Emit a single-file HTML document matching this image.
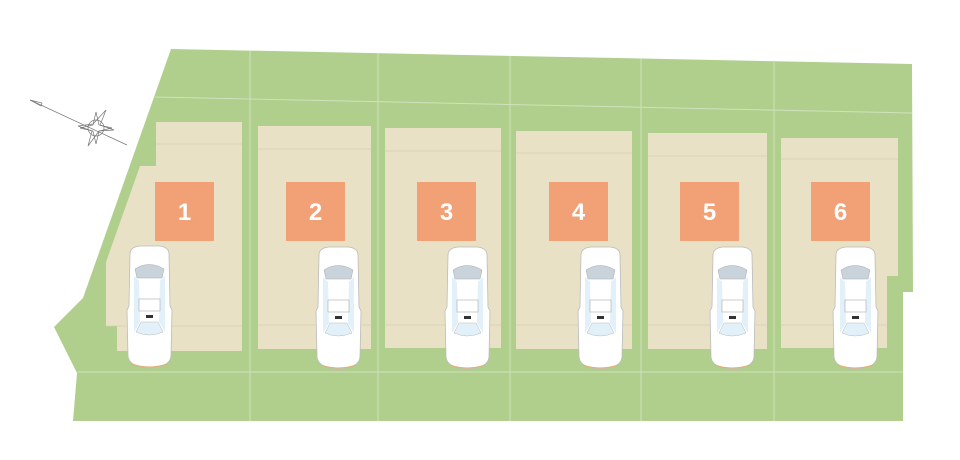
<!DOCTYPE html>
<html><head><meta charset="utf-8"><style>body{margin:0;background:#fff}svg{display:block}</style></head>
<body>
<svg width="960" height="460" viewBox="0 0 960 460" xmlns="http://www.w3.org/2000/svg">
<defs>
<g id="car">
  <path d="M4,8 Q4,1 14,0 L33,0 Q43,1 43,8 L44,60 L46,64 L45,110 Q44,121 23.5,122 Q3,121 2,110 L1,64 L3,60 Z" fill="#fff" stroke="#bbb" stroke-width="0.8"/>
  <path d="M9,23 Q23,14 38,23 L36,32 L11,32 Z" fill="#c9d3db" stroke="#aaa" stroke-width="0.5"/>
  <path d="M8,30 L13,35 L14,76 L8,86 Z" fill="#e2f0fa"/>
  <path d="M39,30 L34,35 L33,76 L39,86 Z" fill="#e2f0fa"/>
  <path d="M10,86 L15,76 L32,76 L37,86 Q23,92 10,86 Z" fill="#e2f0fa" stroke="#bbb" stroke-width="0.5"/>
  <rect x="13" y="53" width="21" height="12" fill="#fff" stroke="#aaa" stroke-width="0.6"/>
  <rect x="20" y="69" width="7" height="3" fill="#333"/>
  <path d="M6,118 Q23,124 41,118" stroke="#e0b070" stroke-width="1" fill="none"/>
</g>
</defs>
<polygon points="171,49 912,64 913,292 903,292 903,421 73,421 77,373 54,327 83,298" fill="#b0cf8c"/>
<g stroke="#cfe2bd" stroke-width="1" fill="none">
  <line x1="155" y1="97" x2="912" y2="113"/>
  <line x1="77" y1="372" x2="903" y2="372"/>
  <line x1="250" y1="51" x2="250" y2="421"/>
  <line x1="378" y1="53" x2="378" y2="421"/>
  <line x1="510" y1="56" x2="510" y2="421"/>
  <line x1="641" y1="59" x2="641" y2="421"/>
  <line x1="774" y1="62" x2="774" y2="421"/>
</g>
<g fill="#e9e1c6">
  <polygon points="156,122 242,122 242,351 117,351 117,326 106,326 106,262 140,166 156,166"/>
  <rect x="258" y="126" width="113" height="223"/>
  <rect x="385" y="128" width="116" height="220"/>
  <rect x="516" y="131" width="116" height="218"/>
  <rect x="648" y="133" width="119" height="216"/>
  <polygon points="781,138 898,138 898,276 887,276 887,348 781,348"/>
</g>
<g stroke="#d5cdb3" stroke-width="0.8">
  <line x1="156" y1="144" x2="242" y2="144"/><line x1="106" y1="326" x2="242" y2="326"/>
  <line x1="258" y1="149" x2="371" y2="149"/><line x1="258" y1="325" x2="371" y2="325"/>
  <line x1="385" y1="151" x2="501" y2="151"/><line x1="385" y1="325" x2="501" y2="325"/>
  <line x1="516" y1="153" x2="632" y2="153"/><line x1="516" y1="325" x2="632" y2="325"/>
  <line x1="648" y1="156" x2="767" y2="156"/><line x1="648" y1="325" x2="767" y2="325"/>
  <line x1="781" y1="159" x2="898" y2="159"/><line x1="781" y1="325" x2="887" y2="325"/>
</g>
<g fill="#f2a075">
  <rect x="155" y="182" width="59" height="59"/>
  <rect x="286" y="182" width="59" height="59"/>
  <rect x="417" y="182" width="59" height="59"/>
  <rect x="549" y="182" width="59" height="59"/>
  <rect x="680" y="182" width="59" height="59"/>
  <rect x="811" y="182" width="59" height="59"/>
</g>
<g fill="#fff" font-family="Liberation Sans, sans-serif" font-weight="bold" font-size="24" text-anchor="middle">
  <text x="184.5" y="220">1</text><text x="315.5" y="220">2</text><text x="446.5" y="220">3</text>
  <text x="578.5" y="220">4</text><text x="709.5" y="220">5</text><text x="840.5" y="220">6</text>
</g>
<use href="#car" x="126" y="246"/>
<use href="#car" x="315" y="247"/>
<use href="#car" x="444" y="247"/>
<use href="#car" x="577" y="247"/>
<use href="#car" x="709" y="247"/>
<use href="#car" x="832" y="247"/>
<g stroke="#777" stroke-width="0.7" fill="none">
  <line x1="30" y1="100" x2="127" y2="145"/>
  <polygon points="30,100 42,103 41,106"/>
  <circle cx="96" cy="128" r="8"/>
  <polygon points="96,112 99,125 112,128 99,131 96,144 93,131 80,128 93,125"/>
  <polygon points="106,110 100,125 114,130 99,131 88,146 92,131 78,126 93,124"/>
</g>
</svg>
</body></html>
